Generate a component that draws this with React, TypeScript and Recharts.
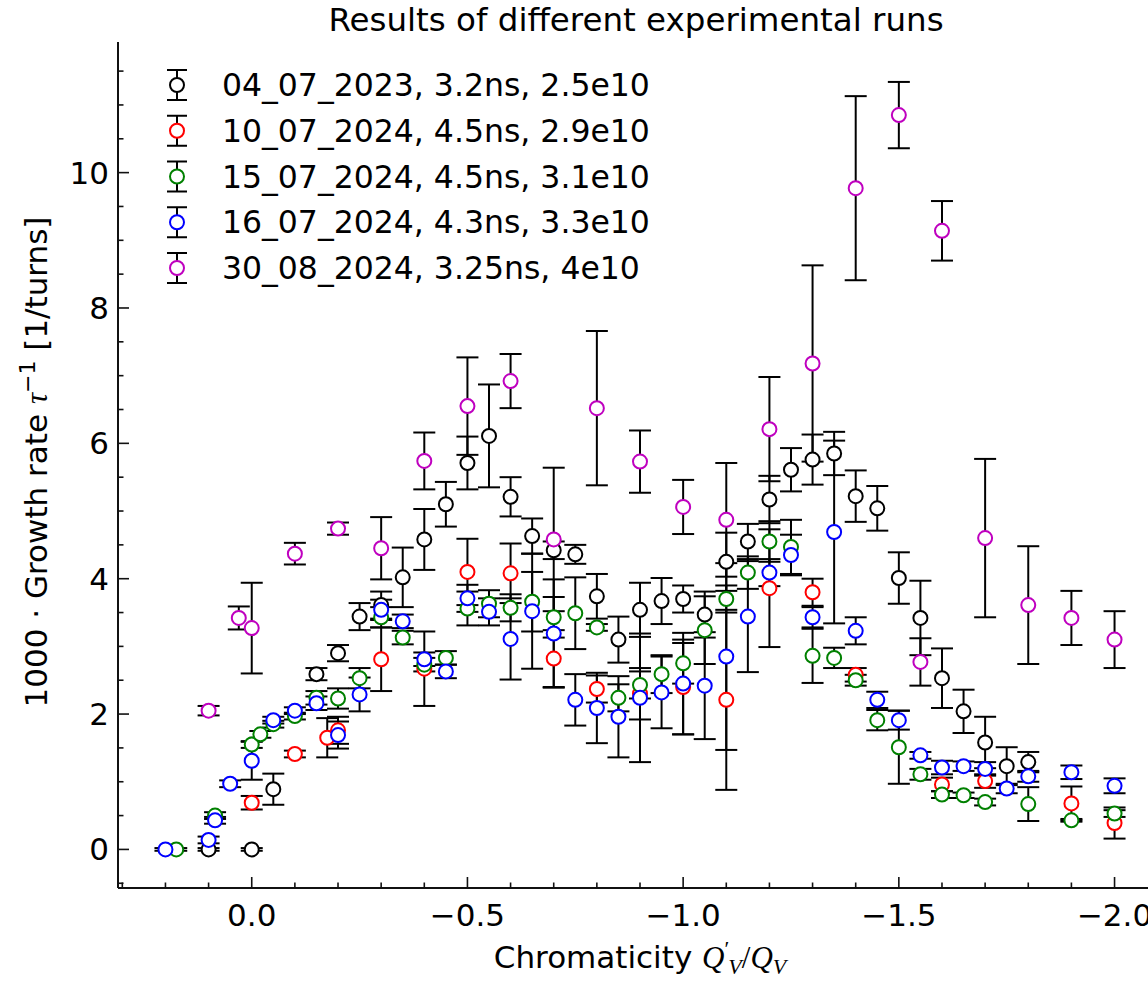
import React from 'react';
import { ScatterChart, Scatter, XAxis, YAxis, ErrorBar } from 'recharts';

// run labels and marker colours (matplotlib k, r, g, b, m)
const runNames = [
  '04_07_2023, 3.2ns, 2.5e10',
  '10_07_2024, 4.5ns, 2.9e10',
  '15_07_2024, 4.5ns, 3.1e10',
  '16_07_2024, 4.3ns, 3.3e10',
  '30_08_2024, 3.25ns, 4e10',
];
const runColors = ['#000000', '#ff0000', '#008000', '#0000ff', '#bf00bf'];

// 04_07_2023
const blackChroma = [0.1, 0, -0.05, -0.15, -0.2, -0.25, -0.3, -0.35, -0.4, -0.45, -0.5, -0.55, -0.6, -0.65, -0.7, -0.75, -0.8, -0.85, -0.9, -0.95, -1.0, -1.05, -1.1, -1.15, -1.2, -1.25, -1.3, -1.35, -1.4, -1.45, -1.5, -1.55, -1.6, -1.65, -1.7, -1.75, -1.8];
const blackRate = [0, 0, 0.89, 2.59, 2.9, 3.44, 3.61, 4.02, 4.58, 5.1, 5.71, 6.11, 5.21, 4.63, 4.42, 4.36, 3.74, 3.1, 3.54, 3.67, 3.7, 3.47, 4.25, 4.55, 5.17, 5.61, 5.76, 5.85, 5.22, 5.04, 4.01, 3.42, 2.53, 2.04, 1.58, 1.23, 1.29];
const blackErr = [0.02, 0.02, 0.23, 0.09, 0.12, 0.2, 0.2, 0.44, 0.45, 0.33, 0.39, 0.76, 0.29, 0.26, 0.13, 0.14, 0.33, 0.34, 0.4, 0.34, 0.2, 0.34, 0.43, 0.26, 0.35, 0.32, 0.37, 0.32, 0.38, 0.33, 0.38, 0.55, 0.44, 0.32, 0.38, 0.28, 0.15];

// 10_07_2024
const redChroma = [0, -0.1, -0.175, -0.2, -0.3, -0.4, -0.5, -0.6, -0.7, -0.8, -0.9, -1.0, -1.1, -1.2, -1.3, -1.4, -1.6, -1.7, -1.9, -2.0];
const redRate = [0.69, 1.41, 1.65, 1.76, 2.81, 2.67, 4.1, 4.08, 2.82, 2.37, 2.3, 2.4, 2.21, 3.86, 3.8, 2.58, 0.96, 1.01, 0.68, 0.39];
const redErr = [0.1, 0.05, 0.29, 0.2, 0.47, 0.55, 0.49, 0.44, 0.42, 0.2, 0.38, 0.7, 1.33, 0.87, 0.2, 0.1, 0.1, 0.1, 0.25, 0.23];

// 15_07_2024
const greenChroma = [0.175, 0.085, 0, -0.02, -0.05, -0.1, -0.15, -0.2, -0.25, -0.3, -0.35, -0.4, -0.45, -0.5, -0.55, -0.6, -0.65, -0.7, -0.75, -0.8, -0.85, -0.9, -0.95, -1.0, -1.05, -1.1, -1.15, -1.2, -1.25, -1.3, -1.35, -1.4, -1.45, -1.5, -1.55, -1.6, -1.65, -1.7, -1.8, -1.9, -2.0];
const greenRate = [0, 0.5, 1.55, 1.7, 1.85, 1.97, 2.24, 2.23, 2.53, 3.43, 3.13, 2.73, 2.83, 3.56, 3.63, 3.57, 3.66, 3.43, 3.49, 3.28, 2.24, 2.43, 2.59, 2.75, 3.24, 3.7, 4.09, 4.55, 4.47, 2.86, 2.83, 2.5, 1.91, 1.51, 1.11, 0.81, 0.8, 0.7, 0.67, 0.43, 0.53];
const greenErr = [0.02, 0.05, 0.05, 0.05, 0.05, 0.05, 0.1, 0.15, 0.15, 0.15, 0.1, 0.1, 0.1, 0.25, 0.2, 0.2, 0.44, 0.3, 0.53, 0.05, 0.2, 0.2, 0.28, 0.3, 0.5, 0.2, 0.24, 0.3, 0.4, 0.4, 0.15, 0.08, 0.15, 0.54, 0.08, 0.05, 0.04, 0.05, 0.25, 0.02, 0.05];

// 16_07_2024
const blueChroma = [0.2, 0.1, 0.085, 0.05, 0, -0.05, -0.1, -0.15, -0.2, -0.25, -0.3, -0.35, -0.4, -0.45, -0.5, -0.55, -0.6, -0.65, -0.7, -0.75, -0.8, -0.85, -0.9, -0.95, -1.0, -1.05, -1.1, -1.15, -1.2, -1.25, -1.3, -1.35, -1.4, -1.45, -1.5, -1.55, -1.6, -1.65, -1.7, -1.75, -1.8, -1.9, -2.0];
const blueRate = [0, 0.14, 0.43, 0.97, 1.31, 1.91, 2.05, 2.16, 1.69, 2.29, 3.54, 3.37, 2.81, 2.63, 3.71, 3.51, 3.11, 3.52, 3.19, 2.21, 2.09, 1.96, 2.24, 2.32, 2.45, 2.42, 2.85, 3.44, 4.09, 4.35, 3.43, 4.69, 3.23, 2.21, 1.91, 1.39, 1.21, 1.23, 1.19, 0.9, 1.08, 1.14, 0.94];
const blueErr = [0.02, 0.05, 0.05, 0.05, 0.28, 0.05, 0.05, 0.1, 0.2, 0.25, 0.15, 0.1, 0.1, 0.1, 0.2, 0.2, 0.6, 0.85, 0.8, 0.38, 0.52, 0.6, 0.95, 0.53, 0.75, 0.79, 1.38, 0.82, 0.2, 0.3, 0.15, 1.35, 0.2, 0.12, 0.14, 0.05, 0.1, 0.07, 0.1, 0.07, 0.08, 0.1, 0.11];

// 30_08_2024
const magentaChroma = [0.1, 0.03, 0, -0.1, -0.2, -0.3, -0.4, -0.5, -0.6, -0.7, -0.8, -0.9, -1.0, -1.1, -1.2, -1.3, -1.4, -1.5, -1.55, -1.6, -1.7, -1.8, -1.9, -2.0];
const magentaRate = [2.05, 3.42, 3.27, 4.37, 4.74, 4.45, 5.74, 6.55, 6.92, 4.58, 6.52, 5.73, 5.06, 4.87, 6.21, 7.18, 9.77, 10.85, 2.77, 9.14, 4.6, 3.61, 3.42, 3.1];
const magentaErr = [0.07, 0.17, 0.67, 0.16, 0.09, 0.46, 0.42, 0.72, 0.4, 1.06, 1.14, 0.46, 0.4, 0.84, 0.77, 1.45, 1.36, 0.49, 0.35, 0.44, 1.17, 0.87, 0.4, 0.42];

// axis ticks
const xMajorTicks = [0, -0.5, -1.0, -1.5, -2.0];
const xMinorTicks = [0.3, 0.2, 0.1, -0.1, -0.2, -0.3, -0.4, -0.6, -0.7, -0.8, -0.9, -1.1, -1.2, -1.3, -1.4, -1.6, -1.7, -1.8, -1.9, -2.1];
const yMajorTicks = [0, 2, 4, 6, 8, 10];
const yMinorTicks = [-0.5, 0.5, 1, 1.5, 2.5, 3, 3.5, 4.5, 5, 5.5, 6.5, 7, 7.5, 8.5, 9, 9.5, 10.5, 11, 11.5];

const runs = [
  { x: blackChroma, y: blackRate, e: blackErr },
  { x: redChroma, y: redRate, e: redErr },
  { x: greenChroma, y: greenRate, e: greenErr },
  { x: blueChroma, y: blueRate, e: blueErr },
  { x: magentaChroma, y: magentaRate, e: magentaErr },
];

const FONT = 'DejaVu Sans';
const MATH = 'Liberation Serif';
const SPINE = '#111';

const isIn = (list: number[], v: number) => list.some((t) => Math.abs(t - v) < 1e-6);
const fmtX = (v: number) => (Math.abs(v) < 1e-9 ? '0.0' : v.toFixed(1).replace('-', '\u2212'));

const BottomTick = (props: any) => {
  const { x, y, payload } = props;
  const major = isIn(xMajorTicks, payload.value);
  return (
    <g>
      <line x1={x} x2={x} y1={y} y2={y - (major ? 11 : 5.5)} stroke={SPINE} strokeWidth={1.6} />
      {major && (
        <text x={x} y={y + 38} textAnchor="middle" fontSize={31} fontFamily={FONT} fill="#000">
          {fmtX(payload.value)}
        </text>
      )}
    </g>
  );
};

const TopTick = (props: any) => {
  const { x, y, payload } = props;
  const major = isIn(xMajorTicks, payload.value);
  return <line x1={x} x2={x} y1={y} y2={y + (major ? 11 : 5.5)} stroke={SPINE} strokeWidth={1.6} />;
};

const LeftTick = (props: any) => {
  const { x, y, payload } = props;
  const major = isIn(yMajorTicks, payload.value);
  return (
    <g>
      <line x1={x} x2={x + (major ? 11 : 5.5)} y1={y} y2={y} stroke={SPINE} strokeWidth={1.6} />
      {major && (
        <text x={x - 9} y={y + 11} textAnchor="end" fontSize={31} fontFamily={FONT} fill="#000">
          {String(payload.value)}
        </text>
      )}
    </g>
  );
};

const ringShape = (color: string) => (p: any) => (
  <circle cx={p.cx} cy={p.cy} r={7} fill="#ffffff" stroke={color} strokeWidth={2} />
);

export default function App() {
  const series = runs.map((r) => r.x.map((x, i) => ({ x, y: r.y[i], err: r.e[i] })));
  const xTicks = [...xMinorTicks, ...xMajorTicks].sort((a, b) => b - a);
  const yTicks = [...yMinorTicks, ...yMajorTicks].sort((a, b) => a - b);

  return (
    <div style={{ position: 'fixed', left: 0, top: 0, width: 1148, height: 981, overflow: 'hidden', background: '#fff' }}>
      <ScatterChart width={1175} height={981} margin={{ top: 42, right: 13, bottom: 0, left: 0 }}>
        <XAxis
          xAxisId="top"
          orientation="top"
          type="number"
          dataKey="x"
          domain={[-2.11, 0.31]}
          allowDataOverflow
          reversed
          height={0}
          ticks={xTicks}
          interval={0}
          tickSize={0}
          tickMargin={0}
          tickLine={false}
          tick={<TopTick />}
          axisLine={{ stroke: SPINE, strokeWidth: 2 }}
        />
        <XAxis
          type="number"
          dataKey="x"
          domain={[-2.11, 0.31]}
          allowDataOverflow
          reversed
          height={93}
          ticks={xTicks}
          interval={0}
          tickSize={0}
          tickMargin={0}
          tickLine={false}
          tick={<BottomTick />}
          axisLine={{ stroke: SPINE, strokeWidth: 2 }}
        />
        <YAxis
          type="number"
          dataKey="y"
          domain={[-0.57, 11.93]}
          allowDataOverflow
          width={118}
          ticks={yTicks}
          interval={0}
          tickSize={0}
          tickMargin={0}
          tickLine={false}
          tick={<LeftTick />}
          axisLine={{ stroke: SPINE, strokeWidth: 2 }}
        />
        {series.map((data, k) => (
          <Scatter
            key={runNames[k]}
            name={runNames[k]}
            data={data}
            isAnimationActive={false}
            shape={ringShape(runColors[k])}
          >
            <ErrorBar dataKey="err" direction="y" width={11} stroke="#000" strokeWidth={2} />
          </Scatter>
        ))}
      </ScatterChart>

      <svg width={1148} height={981} style={{ position: 'absolute', left: 0, top: 0, pointerEvents: 'none' }}>
        <text x={636} y={31} textAnchor="middle" fontSize={32.5} fontFamily={FONT} fill="#000">
          Results of different experimental runs
        </text>
        <text x={640} y={968} textAnchor="middle" fontSize={31} fontFamily={FONT} fill="#000">
          Chromaticity{' '}
          <tspan fontFamily={MATH} fontStyle="italic">Q</tspan>
          <tspan fontFamily={MATH} fontSize={22} dy={-12}>{'\u2032'}</tspan>
          <tspan fontFamily={MATH} fontStyle="italic" fontSize={22} dx={-1} dy={18}>V</tspan>
          <tspan fontFamily={MATH} dy={-6}>/</tspan>
          <tspan fontFamily={MATH} fontStyle="italic">Q</tspan>
          <tspan fontFamily={MATH} fontStyle="italic" fontSize={22} dy={6}>V</tspan>
        </text>
        <text
          x={47}
          y={462}
          transform="rotate(-90, 47, 462)"
          textAnchor="middle"
          fontSize={31}
          fontFamily={FONT}
          fill="#000"
        >
          1000 · Growth rate{' '}
          <tspan fontFamily={MATH} fontStyle="italic">τ</tspan>
          <tspan fontSize={22} dy={-12}>{'\u22121'}</tspan>
          <tspan dy={12}> [1/turns]</tspan>
        </text>
        {runNames.map((name, k) => {
          const cy = 85 + k * 45.75;
          return (
            <g key={name}>
              <line x1={177} x2={177} y1={cy - 15} y2={cy + 15} stroke="#000" strokeWidth={2} />
              <line x1={167} x2={187} y1={cy - 15} y2={cy - 15} stroke="#000" strokeWidth={2} />
              <line x1={167} x2={187} y1={cy + 15} y2={cy + 15} stroke="#000" strokeWidth={2} />
              <circle cx={177} cy={cy} r={7} fill="#fff" stroke={runColors[k]} strokeWidth={2} />
              <text x={222} y={cy + 11} fontSize={31.5} fontFamily={FONT} fill="#000">
                {name}
              </text>
            </g>
          );
        })}
      </svg>
    </div>
  );
}
